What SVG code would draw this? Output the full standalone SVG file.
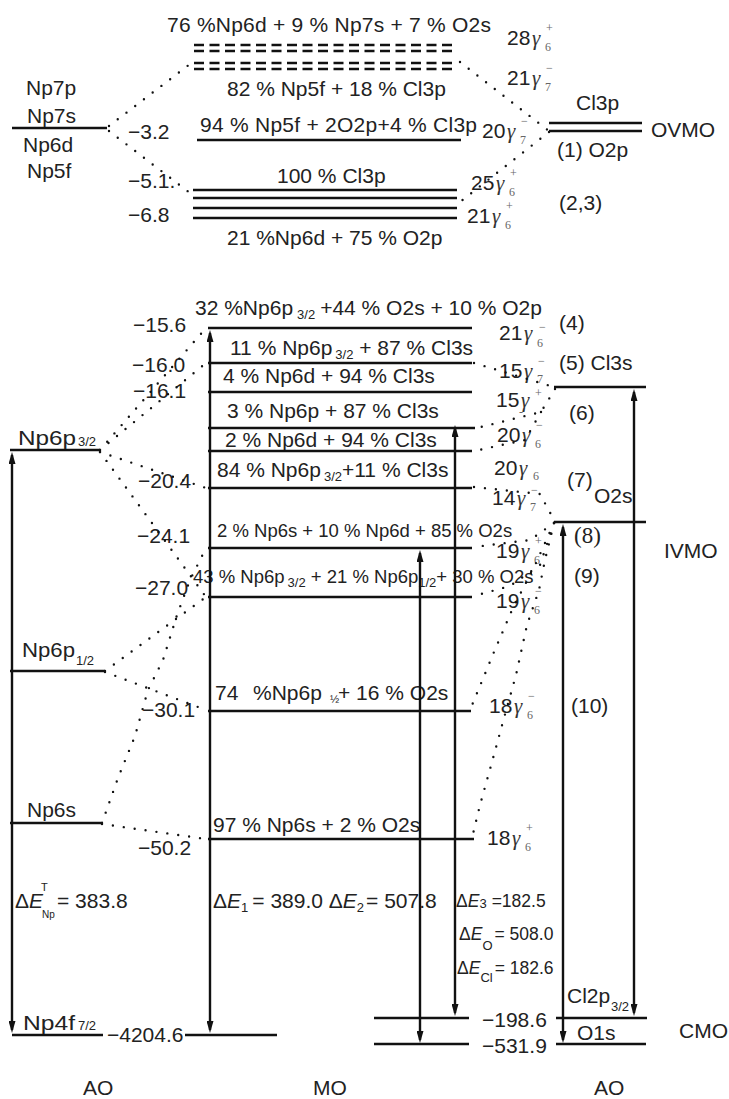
<svg xmlns="http://www.w3.org/2000/svg" width="729" height="1099" viewBox="0 0 729 1099">
<style>
.t{font-family:"Liberation Sans",Arial,sans-serif;font-size:21px;fill:#222}
.t2{font-family:"Liberation Sans",Arial,sans-serif;font-size:18.5px;fill:#222}
.t3{font-family:"Liberation Sans",Arial,sans-serif;font-size:17.5px;fill:#222}
.sm{font-size:13px}
.it{font-style:italic}
.g{font-family:"Liberation Serif","Times New Roman",serif;font-style:italic;font-size:21px;fill:#333}
.gs{font-family:"Liberation Serif","Times New Roman",serif;font-size:12px;fill:#666}
.sf{font-family:"Liberation Serif","Times New Roman",serif;font-size:23px;fill:#222}
.lv{stroke:#111;stroke-width:2.6;fill:none}
.dl{stroke:#111;stroke-width:2.6;stroke-dasharray:10 5.5;fill:none}
.dt{stroke:#111;stroke-width:2.4;stroke-linecap:round;stroke-dasharray:0 11;fill:none}
.ar{stroke:#111;stroke-width:2.4;fill:none;marker-start:url(#ah);marker-end:url(#ah)}
</style>
<defs>
<marker id="ah" viewBox="0 0 12 7" refX="9" refY="3.5" markerWidth="12" markerHeight="7" markerUnits="userSpaceOnUse" orient="auto-start-reverse">
<path d="M0,0 L12,3.5 L0,7 Z" fill="#111"/>
</marker>
</defs>
<rect width="729" height="1099" fill="#fff"/>

<!-- ===== TOP (OVMO) ===== -->
<g id="ao-np-valence">
<line class="lv" x1="12" y1="128" x2="107" y2="128"/>
<text class="t" x="26" y="95">Np7p</text>
<text class="t" x="27" y="123">Np7s</text>
<text class="t" x="23" y="152">Np6d</text>
<text class="t" x="27" y="178">Np5f</text>
</g>

<g id="mo-top-dashed">
<text class="t" x="167" y="32" textLength="324">76 %Np6d + 9 % Np7s + 7 % O2s</text>
<line class="dl" x1="194" y1="45" x2="455" y2="45"/>
<line class="dl" x1="194" y1="51" x2="455" y2="51"/>
<line class="dl" x1="194" y1="63" x2="455" y2="63"/>
<line class="dl" x1="194" y1="69" x2="455" y2="69"/>
<text class="t" x="227" y="96">82 % Np5f + 18 % Cl3p</text>
</g>

<g id="mo-top-3.2">
<text class="t" x="200" y="132" textLength="277">94 % Np5f + 2O2p+4 % Cl3p</text>
<line class="lv" x1="197" y1="140" x2="461" y2="140"/>
<text class="t" x="128" y="139">−3.2</text>
</g>

<g id="mo-top-lower">
<text class="t" x="277" y="183">100 % Cl3p</text>
<line class="lv" x1="193" y1="190" x2="457" y2="190"/>
<line class="lv" x1="193" y1="198" x2="457" y2="198"/>
<line class="lv" x1="193" y1="208" x2="457" y2="208"/>
<line class="lv" x1="193" y1="218" x2="457" y2="218"/>
<text class="t" x="128" y="188">−5.1.</text>
<text class="t" x="128" y="222">−6.8</text>
<text class="t" x="227" y="245">21 %Np6d + 75 % O2p</text>
</g>

<g id="gamma-top">
<text class="t" x="507" y="45">28</text><text class="g" x="532" y="45">γ</text><text class="gs" x="546" y="32">+</text><text class="gs" x="545" y="51">6</text>
<text class="t" x="507" y="85">21</text><text class="g" x="532" y="85">γ</text><text class="gs" x="546" y="72">−</text><text class="gs" x="545" y="91">7</text>
<text class="t" x="482" y="138">20</text><text class="g" x="507" y="138">γ</text><text class="gs" x="521" y="125">−</text><text class="gs" x="520" y="144">7</text>
<text class="t" x="471" y="190">25</text><text class="g" x="496" y="190">γ</text><text class="gs" x="510" y="177">+</text><text class="gs" x="509" y="196">6</text>
<text class="t" x="467" y="223">21</text><text class="g" x="492" y="223">γ</text><text class="gs" x="506" y="210">+</text><text class="gs" x="505" y="229">6</text>
</g>

<g id="ao-ovmo">
<line class="lv" x1="549" y1="123" x2="642" y2="123"/>
<line class="lv" x1="549" y1="131" x2="642" y2="131"/>
<text class="t" x="576" y="110">Cl3p</text>
<text class="t" x="651" y="137">OVMO</text>
<text class="t" x="557" y="157">(1) O2p</text>
<text class="t" x="559" y="210">(2,3)</text>
</g>

<!-- ===== MIDDLE (IVMO) ===== -->
<g id="ao-np6p32">
<line class="lv" x1="10" y1="450" x2="100" y2="450"/>
<text class="t" x="18" y="445" textLength="58" lengthAdjust="spacingAndGlyphs">Np6p</text>
<text class="t sm" x="78" y="446">3/2</text>
</g>
<g id="ao-np6p12">
<line class="lv" x1="10" y1="671" x2="105" y2="671"/>
<text class="t" x="22" y="657" textLength="53" lengthAdjust="spacingAndGlyphs">Np6p</text>
<text class="t sm" x="76" y="665">1/2</text>
</g>
<g id="ao-np6s">
<line class="lv" x1="10" y1="823" x2="103" y2="823"/>
<text class="t" x="27" y="817">Np6s</text>
</g>
<g id="ao-np4f">
<line class="lv" x1="12" y1="1035" x2="103" y2="1035"/>
<text class="t" x="23" y="1030" textLength="52" lengthAdjust="spacingAndGlyphs">Np4f</text>
<text class="t sm" x="78" y="1030">7/2</text>
<text class="t" x="107" y="1042">−4204.6</text>
</g>

<g id="mo-15.6">
<text class="t" x="195" y="315">32 %Np6p<tspan class="sm" dx="4" dy="4">3/2</tspan><tspan dx="5" dy="-4">+44 % O2s + 10 % O2p</tspan></text>
<line class="lv" x1="208" y1="328" x2="472" y2="328"/>
<text class="t" x="133" y="332">−15.6</text>
</g>
<g id="mo-16.0">
<text class="t" x="230" y="355">11 % Np6p<tspan class="sm" dx="3" dy="4">3/2</tspan><tspan dy="-4"> + 87 % Cl3s</tspan></text>
<line class="lv" x1="208" y1="363" x2="472" y2="363"/>
<text class="t" x="132" y="372">−16.0</text>
</g>
<g id="mo-16.1">
<text class="t" x="223" y="383">4 % Np6d + 94 % Cl3s</text>
<line class="lv" x1="208" y1="392" x2="472" y2="392"/>
<text class="t" x="133" y="398">−16.1</text>
</g>
<g id="mo-cl3s-a">
<text class="t" x="227" y="418">3 % Np6p + 87 % Cl3s</text>
<line class="lv" x1="208" y1="428" x2="475" y2="428"/>
</g>
<g id="mo-cl3s-b">
<text class="t" x="225" y="447">2 % Np6d + 94 % Cl3s</text>
<line class="lv" x1="208" y1="451" x2="472" y2="451"/>
</g>
<g id="mo-20.4">
<text class="t" x="217" y="477">84 % Np6p<tspan class="sm" dx="3" dy="4">3/2</tspan><tspan dy="-4">+11 % Cl3s</tspan></text>
<line class="lv" x1="208" y1="488" x2="472" y2="488"/>
<text class="t" x="138" y="488">−20.4</text>
</g>
<g id="mo-24.1">
<text class="t2" x="217" y="537">2 % Np6s + 10 % Np6d + 85 % O2s</text>
<line class="lv" x1="208" y1="548" x2="472" y2="548"/>
<text class="t" x="137" y="543">−24.1</text>
</g>
<g id="mo-27.0">
<text class="t2" x="193" y="583">43 % Np6p<tspan class="sm" dx="3" dy="4">3/2</tspan><tspan dy="-4"> + 21 % Np6p</tspan><tspan class="sm" dy="4">1/2</tspan><tspan dy="-4">+ 30 % O2s</tspan></text>
<line class="lv" x1="208" y1="597" x2="472" y2="597"/>
<text class="t" x="135" y="595">−27.0</text>
</g>
<g id="mo-30.1">
<text class="t" x="215" y="700">74</text>
<text class="t" x="253" y="700">%Np6p</text>
<text class="t" x="330" y="703" style="font-size:11px">½</text>
<text class="t" x="338" y="700">+ 16 % O2s</text>
<line class="lv" x1="208" y1="711" x2="471" y2="711"/>
<text class="t" x="142" y="717">−30.1</text>
</g>
<g id="mo-50.2">
<text class="t" x="213" y="832">97 % Np6s + 2 % O2s</text>
<line class="lv" x1="208" y1="839" x2="474" y2="839"/>
<text class="t" x="138" y="855">−50.2</text>
</g>
<g id="mo-4204.6">
<line class="lv" x1="185" y1="1035" x2="277" y2="1035"/>
</g>

<g id="gamma-mid">
<text class="t" x="499" y="340">21</text><text class="g" x="524" y="340">γ</text><text class="gs" x="539" y="331">−</text><text class="gs" x="537" y="347">6</text>
<text class="t" x="499" y="378">15</text><text class="g" x="524" y="378">γ</text><text class="gs" x="538" y="365">−</text><text class="gs" x="537" y="383">7</text>
<text class="t" x="496" y="407">15</text><text class="g" x="521" y="407">γ</text><text class="gs" x="535" y="397">+</text><text class="gs" x="519" y="416">-</text>
<text class="t" x="497" y="442">20</text><text class="g" x="522" y="442">γ</text><text class="gs" x="536" y="429">−</text><text class="gs" x="535" y="448">6</text>
<text class="t" x="494" y="475">20</text><text class="g" x="519" y="475">γ</text><text class="gs" x="533" y="480">6</text>
<text class="t" x="492" y="505">14</text><text class="g" x="517" y="505">γ</text><text class="gs" x="531" y="494">−</text><text class="gs" x="530" y="511">7</text>
<text class="t" x="496" y="558">19</text><text class="g" x="521" y="558">γ</text><text class="gs" x="535" y="545">+</text><text class="gs" x="534" y="564">6</text>
<text class="t" x="496" y="608">19</text><text class="g" x="521" y="608">γ</text><text class="gs" x="535" y="595">−</text><text class="gs" x="534" y="614">6</text>
<text class="t" x="489" y="713">18</text><text class="g" x="514" y="713">γ</text><text class="gs" x="528" y="700">−</text><text class="gs" x="527" y="719">6</text>
<text class="t" x="487" y="845">18</text><text class="g" x="512" y="845">γ</text><text class="gs" x="526" y="832">+</text><text class="gs" x="525" y="851">6</text>
</g>

<g id="ao-cl3s">
<line class="lv" x1="554" y1="387" x2="646" y2="387"/>
<text class="t" x="559" y="370">(5) Cl3s</text>
</g>
<g id="ao-o2s">
<line class="lv" x1="554" y1="522" x2="646" y2="522"/>
<text class="t" x="567" y="487">(7)</text>
<text class="t" x="594" y="503">O2s</text>
</g>
<g id="labels-right">
<text class="t" x="559" y="330">(4)</text>
<text class="t" x="569" y="420">(6)</text>
<text class="sf" x="574" y="543">(8)</text>
<text class="t" x="664" y="558">IVMO</text>
<text class="t" x="574" y="583">(9)</text>
<text class="t" x="571" y="713">(10)</text>
</g>

<!-- ===== BOTTOM (CMO) ===== -->
<g id="mo-core">
<line class="lv" x1="374" y1="1018" x2="469" y2="1018"/>
<line class="lv" x1="374" y1="1044" x2="469" y2="1044"/>
<text class="t" x="482" y="1027">−198.6</text>
<text class="t" x="482" y="1053">−531.9</text>
</g>
<g id="ao-cl2p">
<line class="lv" x1="556" y1="1018" x2="647" y2="1018"/>
<text class="t" x="567" y="1003">Cl2p</text>
<text class="t sm" x="611" y="1011">3/2</text>
</g>
<g id="ao-o1s">
<line class="lv" x1="556" y1="1044" x2="646" y2="1044"/>
<text class="t" x="577" y="1040">O1s</text>
<text class="t" x="679" y="1038">CMO</text>
</g>

<g id="energies">
<text class="t" x="15" y="908">Δ<tspan class="it">E</tspan></text>
<text class="t" x="41" y="891" style="font-size:11px">T</text>
<text class="t" x="42" y="918" style="font-size:10px">Np</text>
<text class="t" x="57" y="908">= 383.8</text>
<text class="t" x="213" y="908">Δ<tspan class="it">E</tspan><tspan class="sm" dy="4">1</tspan><tspan dx="4" dy="-4">= 389.0 Δ</tspan><tspan class="it">E</tspan><tspan class="sm" dy="4">2</tspan><tspan dx="2" dy="-4">= 507.8</tspan></text>
<text class="t3" x="456" y="907">Δ<tspan class="it">E</tspan><tspan class="sm" dy="1">3</tspan><tspan dx="5" dy="-1">=182.5</tspan></text>
<text class="t3" x="459" y="940">Δ<tspan class="it">E</tspan><tspan class="sm" dy="10">O</tspan><tspan dx="2" dy="-10">= 508.0</tspan></text>
<text class="t3" x="457" y="974">Δ<tspan class="it">E</tspan><tspan class="sm" dy="8">Cl</tspan><tspan dx="2" dy="-8">= 182.6</tspan></text>
</g>

<g id="axis-labels">
<text class="t" x="83" y="1095">AO</text>
<text class="t" x="313" y="1095">MO</text>
<text class="t" x="594" y="1095">AO</text>
</g>

<!-- ===== CONNECTORS ===== -->
<g id="connectors">
<line class="dt" x1="109" y1="126" x2="190" y2="64"/>
<line class="dt" x1="109" y1="131" x2="190" y2="193"/>
<line class="dt" x1="460" y1="62" x2="549" y2="131"/>
<line class="dt" x1="549" y1="132" x2="460" y2="202"/>
<line class="dt" x1="100" y1="450" x2="206" y2="328"/>
<line class="dt" x1="100" y1="450" x2="206" y2="363"/>
<line class="dt" x1="100" y1="452" x2="206" y2="488"/>
<line class="dt" x1="100" y1="452" x2="206" y2="597"/>
<line class="dt" x1="105" y1="671" x2="206" y2="597"/>
<polyline class="dt" points="102,823 118,778 135,736 148,690 163,660 177,615 190,580 206,548"/>
<line class="dt" x1="105" y1="672" x2="206" y2="710"/>
<line class="dt" x1="102" y1="824" x2="206" y2="839"/>
<line class="dt" x1="474" y1="363" x2="554" y2="387"/>
<polyline class="dt" points="555,389 541,412 477,428"/>
<polyline class="dt" points="541,412 525,440 474,451"/>
<polyline class="dt" points="474,487 540,494 554,520"/>
<polyline class="dt" points="554,523 530,540 474,547"/>
<polyline class="dt" points="554,523 540,565 510,586 474,596"/>
<polyline class="dt" points="554,523 536,563 512,610 494,652 470,710"/>
<polyline class="dt" points="554,523 545,560 539,590 527,625 516,675 504,718 492,762 480,805 472,838"/>
<line class="ar" x1="12" y1="455" x2="12" y2="1030"/>
<line class="ar" x1="210" y1="333" x2="210" y2="1030"/>
<line class="ar" x1="420" y1="553" x2="420" y2="1040"/>
<line class="ar" x1="455" y1="428" x2="455" y2="1013"/>
<line class="ar" x1="563" y1="527" x2="563" y2="1040"/>
<line class="ar" x1="634" y1="392" x2="634" y2="1013"/>
</g>
</svg>
